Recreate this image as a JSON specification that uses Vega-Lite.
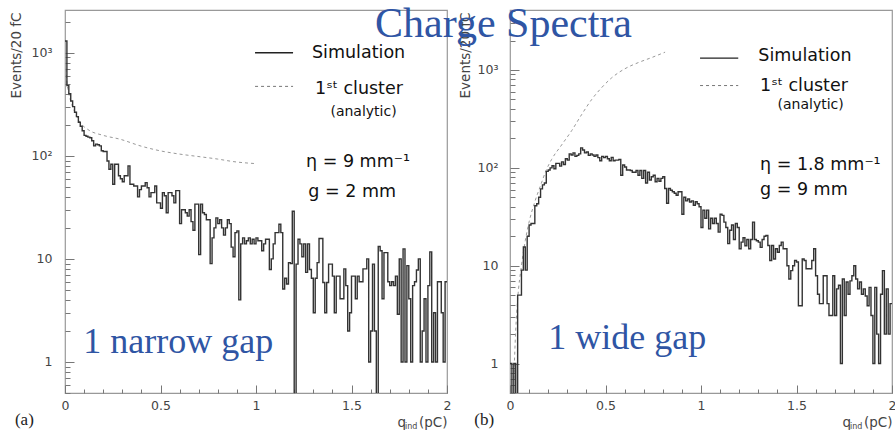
{
"$schema":"https://vega.github.io/schema/vega-lite/v6.json",
"background":"white",
"padding":{"left":8,"top":3,"right":0,"bottom":0},
"title":{"text":"Charge Spectra","font":"Liberation Serif","fontSize":42,"fontWeight":"normal","color":"#2f55a4","anchor":"start","frame":"group","offset":-42,"dx":310},
"spacing":63,
"bounds":"flush",
"config":{
 "view":{"stroke":"#999","strokeWidth":1.2},
 "axis":{"domain":false,"grid":false,"labelFont":"DejaVu Sans","labelFontSize":12.5,"labelColor":"#444","tickColor":"#777","tickWidth":1,"titleFont":"DejaVu Sans","titleFontSize":13.5,"titleFontWeight":"normal","titleColor":"#444","labelOverlap":false,"labelBound":false,"labelFlush":false}
},
"datasets":{
 "histA":[{"q":0,"n":1300},{"q":0.01,"n":480},{"q":0.02,"n":400},{"q":0.03,"n":340},{"q":0.04,"n":300},{"q":0.05,"n":265},{"q":0.06,"n":240},{"q":0.07,"n":212},{"q":0.08,"n":194},{"q":0.09,"n":175},{"q":0.1,"n":158},{"q":0.11,"n":155},{"q":0.12,"n":152},{"q":0.13,"n":150},{"q":0.14,"n":140},{"q":0.15,"n":125},{"q":0.16,"n":130},{"q":0.17,"n":128},{"q":0.18,"n":125},{"q":0.19,"n":112},{"q":0.2,"n":110},{"q":0.21,"n":110},{"q":0.22,"n":89},{"q":0.23,"n":74},{"q":0.24,"n":83},{"q":0.25,"n":53},{"q":0.26,"n":83},{"q":0.27,"n":83},{"q":0.28,"n":64},{"q":0.29,"n":60},{"q":0.3,"n":56},{"q":0.31,"n":64},{"q":0.32,"n":64},{"q":0.33,"n":80},{"q":0.34,"n":53},{"q":0.35,"n":53},{"q":0.36,"n":51},{"q":0.37,"n":51},{"q":0.38,"n":40},{"q":0.39,"n":47},{"q":0.4,"n":51},{"q":0.41,"n":51},{"q":0.42,"n":55},{"q":0.43,"n":49},{"q":0.44,"n":40},{"q":0.45,"n":44},{"q":0.46,"n":44},{"q":0.47,"n":51},{"q":0.48,"n":35},{"q":0.49,"n":35},{"q":0.5,"n":31},{"q":0.51,"n":44},{"q":0.52,"n":41},{"q":0.53,"n":28},{"q":0.54,"n":44},{"q":0.55,"n":44},{"q":0.56,"n":41},{"q":0.57,"n":35},{"q":0.58,"n":46},{"q":0.59,"n":46},{"q":0.6,"n":22},{"q":0.61,"n":30},{"q":0.62,"n":30},{"q":0.63,"n":28},{"q":0.64,"n":26},{"q":0.65,"n":30},{"q":0.66,"n":23},{"q":0.67,"n":19},{"q":0.68,"n":34},{"q":0.69,"n":34},{"q":0.7,"n":11},{"q":0.71,"n":34},{"q":0.72,"n":28},{"q":0.73,"n":27},{"q":0.74,"n":24},{"q":0.75,"n":24},{"q":0.76,"n":9},{"q":0.77,"n":16},{"q":0.78,"n":20},{"q":0.79,"n":25},{"q":0.8,"n":22},{"q":0.81,"n":24},{"q":0.82,"n":20},{"q":0.83,"n":17},{"q":0.84,"n":20},{"q":0.85,"n":24},{"q":0.86,"n":22},{"q":0.87,"n":13},{"q":0.88,"n":10.5},{"q":0.89,"n":18},{"q":0.9,"n":18.7},{"q":0.91,"n":4},{"q":0.92,"n":14},{"q":0.93,"n":16},{"q":0.94,"n":14},{"q":0.95,"n":15},{"q":0.96,"n":16},{"q":0.97,"n":14},{"q":0.98,"n":15.5},{"q":0.99,"n":14},{"q":1,"n":16},{"q":1.01,"n":15},{"q":1.02,"n":15},{"q":1.03,"n":12},{"q":1.04,"n":14},{"q":1.05,"n":15.5},{"q":1.06,"n":15.5},{"q":1.07,"n":7.9},{"q":1.08,"n":10},{"q":1.09,"n":14},{"q":1.1,"n":18},{"q":1.11,"n":18},{"q":1.12,"n":21.7},{"q":1.13,"n":18},{"q":1.14,"n":5.1},{"q":1.15,"n":6.5},{"q":1.16,"n":5.7},{"q":1.17,"n":9.2},{"q":1.18,"n":9},{"q":1.19,"n":29},{"q":1.2,"n":0.3},{"q":1.21,"n":8.9},{"q":1.22,"n":15.5},{"q":1.23,"n":14},{"q":1.24,"n":10.5},{"q":1.25,"n":14},{"q":1.26,"n":7.4},{"q":1.27,"n":14},{"q":1.28,"n":7.9},{"q":1.29,"n":6.5},{"q":1.3,"n":3},{"q":1.31,"n":6.5},{"q":1.32,"n":9.2},{"q":1.33,"n":15.8},{"q":1.34,"n":15.8},{"q":1.35,"n":5.9},{"q":1.36,"n":3},{"q":1.37,"n":5.9},{"q":1.38,"n":8.9},{"q":1.39,"n":8.9},{"q":1.4,"n":6.8},{"q":1.41,"n":3},{"q":1.42,"n":6.8},{"q":1.43,"n":6.8},{"q":1.44,"n":4.1},{"q":1.45,"n":4.1},{"q":1.46,"n":8},{"q":1.47,"n":5.5},{"q":1.48,"n":2},{"q":1.49,"n":3},{"q":1.5,"n":6.8},{"q":1.51,"n":6.8},{"q":1.52,"n":4.1},{"q":1.53,"n":6.8},{"q":1.54,"n":6},{"q":1.55,"n":6},{"q":1.56,"n":8},{"q":1.57,"n":8},{"q":1.58,"n":10},{"q":1.59,"n":1},{"q":1.6,"n":2},{"q":1.61,"n":8.9},{"q":1.62,"n":2},{"q":1.63,"n":0.3},{"q":1.64,"n":13.2},{"q":1.65,"n":12},{"q":1.66,"n":4.1},{"q":1.67,"n":11.5},{"q":1.68,"n":11.5},{"q":1.69,"n":6},{"q":1.7,"n":5.5},{"q":1.71,"n":6},{"q":1.72,"n":5.5},{"q":1.73,"n":6.8},{"q":1.74,"n":2.9},{"q":1.75,"n":10},{"q":1.76,"n":1},{"q":1.77,"n":12.5},{"q":1.78,"n":1},{"q":1.79,"n":8.6},{"q":1.8,"n":4.1},{"q":1.81,"n":1},{"q":1.82,"n":5.5},{"q":1.83,"n":6},{"q":1.84,"n":7.8},{"q":1.85,"n":10},{"q":1.86,"n":1},{"q":1.87,"n":2},{"q":1.88,"n":4.1},{"q":1.89,"n":1},{"q":1.9,"n":5.5},{"q":1.91,"n":11.7},{"q":1.92,"n":1},{"q":1.93,"n":3},{"q":1.94,"n":1},{"q":1.95,"n":6},{"q":1.96,"n":6},{"q":1.97,"n":3},{"q":1.98,"n":1},{"q":1.99,"n":6},{"q":2,"n":6}],
 "histB":[{"q":0,"n":1},{"q":0.01,"n":0.3},{"q":0.02,"n":1},{"q":0.03,"n":0.3},{"q":0.04,"n":5},{"q":0.05,"n":5},{"q":0.06,"n":9},{"q":0.07,"n":15.5},{"q":0.08,"n":9},{"q":0.09,"n":20},{"q":0.1,"n":26},{"q":0.11,"n":27},{"q":0.12,"n":27},{"q":0.13,"n":41},{"q":0.14,"n":43},{"q":0.15,"n":50},{"q":0.16,"n":61},{"q":0.17,"n":67},{"q":0.18,"n":70},{"q":0.19,"n":92},{"q":0.2,"n":95},{"q":0.21,"n":100},{"q":0.22,"n":105},{"q":0.23,"n":98},{"q":0.24,"n":111},{"q":0.25,"n":111},{"q":0.26,"n":104},{"q":0.27,"n":115},{"q":0.28,"n":108},{"q":0.29,"n":124},{"q":0.3,"n":120},{"q":0.31,"n":139},{"q":0.32,"n":135},{"q":0.33,"n":142},{"q":0.34,"n":131},{"q":0.35,"n":134},{"q":0.36,"n":139},{"q":0.37,"n":160},{"q":0.38,"n":152},{"q":0.39,"n":142},{"q":0.4,"n":145},{"q":0.41,"n":134},{"q":0.42,"n":139},{"q":0.43,"n":135},{"q":0.44,"n":131},{"q":0.45,"n":135},{"q":0.46,"n":127},{"q":0.47,"n":118},{"q":0.48,"n":131},{"q":0.49,"n":127},{"q":0.5,"n":131},{"q":0.51,"n":124},{"q":0.52,"n":118},{"q":0.53,"n":128},{"q":0.54,"n":118},{"q":0.55,"n":120},{"q":0.56,"n":120},{"q":0.57,"n":122},{"q":0.58,"n":84},{"q":0.59,"n":107},{"q":0.6,"n":102},{"q":0.61,"n":95},{"q":0.62,"n":95},{"q":0.63,"n":94},{"q":0.64,"n":90},{"q":0.65,"n":90},{"q":0.66,"n":94},{"q":0.67,"n":84},{"q":0.68,"n":94},{"q":0.69,"n":78},{"q":0.7,"n":94},{"q":0.71,"n":70},{"q":0.72,"n":90},{"q":0.73,"n":75},{"q":0.74,"n":81},{"q":0.75,"n":84},{"q":0.76,"n":72},{"q":0.77,"n":78},{"q":0.78,"n":73},{"q":0.79,"n":78},{"q":0.8,"n":81},{"q":0.81,"n":61.5},{"q":0.82,"n":43.5},{"q":0.83,"n":61.5},{"q":0.84,"n":59},{"q":0.85,"n":57},{"q":0.86,"n":55},{"q":0.87,"n":52.5},{"q":0.88,"n":57},{"q":0.89,"n":57},{"q":0.9,"n":33.6},{"q":0.91,"n":50},{"q":0.92,"n":46},{"q":0.93,"n":48},{"q":0.94,"n":44.7},{"q":0.95,"n":46},{"q":0.96,"n":41.5},{"q":0.97,"n":45},{"q":0.98,"n":43},{"q":0.99,"n":40},{"q":1,"n":24.6},{"q":1.01,"n":37},{"q":1.02,"n":30.5},{"q":1.03,"n":37},{"q":1.04,"n":23.8},{"q":1.05,"n":30.5},{"q":1.06,"n":27},{"q":1.07,"n":30.5},{"q":1.08,"n":27},{"q":1.09,"n":22},{"q":1.1,"n":33.6},{"q":1.11,"n":32.7},{"q":1.12,"n":27.9},{"q":1.13,"n":24.6},{"q":1.14,"n":16.8},{"q":1.15,"n":23},{"q":1.16,"n":26},{"q":1.17,"n":18.5},{"q":1.18,"n":27},{"q":1.19,"n":24.6},{"q":1.2,"n":14.9},{"q":1.21,"n":17.4},{"q":1.22,"n":19.3},{"q":1.23,"n":16},{"q":1.24,"n":18.5},{"q":1.25,"n":14.9},{"q":1.26,"n":18.5},{"q":1.27,"n":27.9},{"q":1.28,"n":18.5},{"q":1.29,"n":18},{"q":1.3,"n":17.4},{"q":1.31,"n":15.4},{"q":1.32,"n":18.5},{"q":1.33,"n":20},{"q":1.34,"n":20.4},{"q":1.35,"n":16.1},{"q":1.36,"n":11.3},{"q":1.37,"n":16.1},{"q":1.38,"n":11.7},{"q":1.39,"n":14.9},{"q":1.4,"n":13.7},{"q":1.41,"n":16.1},{"q":1.42,"n":17.4},{"q":1.43,"n":14.9},{"q":1.44,"n":14.9},{"q":1.45,"n":10},{"q":1.46,"n":7.3},{"q":1.47,"n":8.9},{"q":1.48,"n":10},{"q":1.49,"n":11.3},{"q":1.5,"n":10.9},{"q":1.51,"n":3.9},{"q":1.52,"n":3.9},{"q":1.53,"n":11.7},{"q":1.54,"n":11.3},{"q":1.55,"n":9.3},{"q":1.56,"n":9.3},{"q":1.57,"n":9.3},{"q":1.58,"n":11.3},{"q":1.59,"n":14.9},{"q":1.6,"n":7.9},{"q":1.61,"n":5.1},{"q":1.62,"n":4.1},{"q":1.63,"n":4.1},{"q":1.64,"n":7.9},{"q":1.65,"n":7.9},{"q":1.66,"n":4.1},{"q":1.67,"n":3.1},{"q":1.68,"n":3.1},{"q":1.69,"n":7.9},{"q":1.7,"n":3.1},{"q":1.71,"n":5.8},{"q":1.72,"n":6.3},{"q":1.73,"n":1},{"q":1.74,"n":7.3},{"q":1.75,"n":3.1},{"q":1.76,"n":6.8},{"q":1.77,"n":5.1},{"q":1.78,"n":7},{"q":1.79,"n":7.9},{"q":1.8,"n":10},{"q":1.81,"n":7.3},{"q":1.82,"n":5.8},{"q":1.83,"n":6.8},{"q":1.84,"n":5.1},{"q":1.85,"n":5.8},{"q":1.86,"n":4.9},{"q":1.87,"n":3.9},{"q":1.88,"n":6},{"q":1.89,"n":3.1},{"q":1.9,"n":1},{"q":1.91,"n":6},{"q":1.92,"n":2},{"q":1.93,"n":1},{"q":1.94,"n":5.1},{"q":1.95,"n":8.9},{"q":1.96,"n":2},{"q":1.97,"n":5.8},{"q":1.98,"n":2},{"q":1.99,"n":4.1},{"q":2,"n":4.1}],
 "curveA":[{"q":0.005,"n":700},{"q":0.01,"n":520},{"q":0.02,"n":400},{"q":0.03,"n":340},{"q":0.05,"n":270},{"q":0.079,"n":211},{"q":0.12,"n":180},{"q":0.2,"n":158},{"q":0.288,"n":145},{"q":0.4,"n":124},{"q":0.497,"n":112},{"q":0.6,"n":104},{"q":0.707,"n":98},{"q":0.8,"n":93},{"q":0.88,"n":88},{"q":1.0,"n":84}],
 "curveB":[{"q":0.02,"n":0.7},{"q":0.03,"n":2.2},{"q":0.04,"n":4.5},{"q":0.06,"n":10},{"q":0.08,"n":18},{"q":0.1,"n":28},{"q":0.13,"n":45},{"q":0.16,"n":66},{"q":0.19,"n":95},{"q":0.218,"n":122},{"q":0.27,"n":171},{"q":0.323,"n":240},{"q":0.375,"n":350},{"q":0.428,"n":500},{"q":0.48,"n":660},{"q":0.532,"n":830},{"q":0.602,"n":1030},{"q":0.672,"n":1190},{"q":0.742,"n":1340},{"q":0.812,"n":1520}],
 "keyA":[{"q":0.995,"q2":1.194,"n":1000,"line":"solid"},{"q":0.995,"q2":1.194,"n":472,"line":"dashed"}],
 "keyB":[{"q":0.995,"q2":1.195,"n":1320,"line":"solid"},{"q":0.995,"q2":1.195,"n":693,"line":"dashed"}],
 "notesA":[{"q":1.293,"n":1000,"text":"Simulation","kind":"key"},{"q":1.309,"n":445,"text":"1ˢᵗ cluster","kind":"key"},{"q":1.563,"n":267,"text":"(analytic)","kind":"note"},{"q":1.262,"n":87,"text":"η = 9 mm⁻¹","kind":"key"},{"q":1.274,"n":45,"text":"g = 2 mm","kind":"key"},{"q":0.096,"n":1.23,"text":"1 narrow gap","kind":"gap"},{"q":-0.262,"n":0.271,"text":"(a)","kind":"panel"},{"q":1.78,"n":0.235,"text":"ind","kind":"sub"}],
 "notesB":[{"q":1.3,"n":1400,"text":"Simulation","kind":"key"},{"q":1.309,"n":678,"text":"1ˢᵗ cluster","kind":"key"},{"q":1.574,"n":439,"text":"(analytic)","kind":"note"},{"q":1.309,"n":106,"text":"η = 1.8 mm⁻¹","kind":"key"},{"q":1.309,"n":58.9,"text":"g = 9 mm","kind":"key"},{"q":0.2,"n":1.4,"text":"1 wide gap","kind":"gap"},{"q":-0.187,"n":0.268,"text":"(b)","kind":"panel"},{"q":1.78,"n":0.225,"text":"ind","kind":"sub"}]
},
"hconcat":[
 {
  "width":382,"height":383,
  "encoding":{
   "x":{"field":"q","type":"quantitative","scale":{"domain":[0,2],"nice":false,"zero":false},
        "axis":{"values":[0,0.1,0.2,0.3,0.4,0.5,0.6,0.7,0.8,0.9,1,1.1,1.2,1.3,1.4,1.5,1.6,1.7,1.8,1.9,2],
                "labelExpr":"indexof([0,0.5,1,1.5,2], datum.value) >= 0 ? format(datum.value, '') : ''",
                "tickSize":{"expr":"indexof([0,0.5,1,1.5,2], datum.value) >= 0 ? -8 : -4"},
                "labelPadding":14,
                "title":"q\u00a0\u00a0\u00a0(pC)","titleAnchor":"end","titleAlign":"right","titleX":382,"titleY":29,"titleBaseline":"middle"}},
   "y":{"field":"n","type":"quantitative","scale":{"type":"log","domain":[0.5,2600],"nice":false},
        "axis":{"values":[0.5,0.6,0.7,0.8,0.9,1,2,3,4,5,6,7,8,9,10,20,30,40,50,60,70,80,90,100,200,300,400,500,600,700,800,900,1000,2000],
                "labelExpr":"datum.value == 1 ? '1' : datum.value == 10 ? '10' : datum.value == 100 ? '10²' : datum.value == 1000 ? '10³' : ''",
                "tickSize":{"expr":"indexof([1,10,100,1000], datum.value) >= 0 ? -9 : -5"},
                "labelPadding":22,
                "title":"Events/20 fC","titleAngle":-90,"titleX":-49,"titleY":2,"titleAlign":"right","titleBaseline":"middle"}}
  },
  "layer":[
   {"data":{"name":"curveA"},"mark":{"type":"line","interpolate":"monotone","strokeDash":[3,3],"color":"#999","strokeWidth":1,"clip":true}},
   {"data":{"name":"histA"},"mark":{"type":"line","interpolate":"step-after","clip":true,"color":"#333","strokeWidth":1.4}},
   {"data":{"name":"keyA"},"transform":[{"filter":"datum.line == 'solid'"}],"mark":{"type":"rule","color":"#222","strokeWidth":1.4},"encoding":{"x2":{"field":"q2"}}},
   {"data":{"name":"keyA"},"transform":[{"filter":"datum.line == 'dashed'"}],"mark":{"type":"rule","color":"#777","strokeWidth":1,"strokeDash":[3,3]},"encoding":{"x2":{"field":"q2"}}},
   {"data":{"name":"notesA"},"transform":[{"filter":"datum.kind == 'key'"}],"mark":{"type":"text","align":"left","baseline":"middle","font":"DejaVu Sans","fontSize":17.5,"color":"#111"},"encoding":{"text":{"field":"text"}}},
   {"data":{"name":"notesA"},"transform":[{"filter":"datum.kind == 'note'"}],"mark":{"type":"text","align":"center","baseline":"middle","font":"DejaVu Sans","fontSize":14,"color":"#111"},"encoding":{"text":{"field":"text"}}},
   {"data":{"name":"notesA"},"transform":[{"filter":"datum.kind == 'gap'"}],"mark":{"type":"text","align":"left","baseline":"alphabetic","font":"Liberation Serif","fontSize":36,"color":"#2f55a4"},"encoding":{"text":{"field":"text"}}},
   {"data":{"name":"notesA"},"transform":[{"filter":"datum.kind == 'panel'"}],"mark":{"type":"text","align":"left","baseline":"middle","font":"Liberation Serif","fontSize":17,"color":"#222"},"encoding":{"text":{"field":"text"}}},
   {"data":{"name":"notesA"},"transform":[{"filter":"datum.kind == 'sub'"}],"mark":{"type":"text","align":"left","baseline":"middle","font":"DejaVu Sans","fontSize":8,"color":"#444"},"encoding":{"text":{"field":"text"}}}
  ]
 },
 {
  "width":382,"height":383,
  "encoding":{
   "x":{"field":"q","type":"quantitative","scale":{"domain":[0,2],"nice":false,"zero":false},
        "axis":{"values":[0,0.1,0.2,0.3,0.4,0.5,0.6,0.7,0.8,0.9,1,1.1,1.2,1.3,1.4,1.5,1.6,1.7,1.8,1.9,2],
                "labelExpr":"indexof([0,0.5,1,1.5,2], datum.value) >= 0 ? format(datum.value, '') : ''",
                "tickSize":{"expr":"indexof([0,0.5,1,1.5,2], datum.value) >= 0 ? -8 : -4"},
                "labelPadding":14,
                "title":"q\u00a0\u00a0\u00a0(pC)","titleAnchor":"end","titleAlign":"right","titleX":382,"titleY":29,"titleBaseline":"middle"}},
   "y":{"field":"n","type":"quantitative","scale":{"type":"log","domain":[0.5,4100],"nice":false},
        "axis":{"values":[0.5,0.6,0.7,0.8,0.9,1,2,3,4,5,6,7,8,9,10,20,30,40,50,60,70,80,90,100,200,300,400,500,600,700,800,900,1000,2000,3000,4000],
                "labelExpr":"datum.value == 1 ? '1' : datum.value == 10 ? '10' : datum.value == 100 ? '10²' : datum.value == 1000 ? '10³' : ''",
                "tickSize":{"expr":"indexof([1,10,100,1000], datum.value) >= 0 ? -9 : -5"},
                "labelPadding":21,
                "title":"Events/20 fC","titleAngle":-90,"titleX":-45,"titleY":2,"titleAlign":"right","titleBaseline":"middle"}}
  },
  "layer":[
   {"data":{"name":"curveB"},"mark":{"type":"line","interpolate":"monotone","strokeDash":[3,3],"color":"#999","strokeWidth":1,"clip":true}},
   {"data":{"name":"histB"},"mark":{"type":"line","interpolate":"step-after","clip":true,"color":"#333","strokeWidth":1.4}},
   {"data":{"name":"keyB"},"transform":[{"filter":"datum.line == 'solid'"}],"mark":{"type":"rule","color":"#222","strokeWidth":1.4},"encoding":{"x2":{"field":"q2"}}},
   {"data":{"name":"keyB"},"transform":[{"filter":"datum.line == 'dashed'"}],"mark":{"type":"rule","color":"#777","strokeWidth":1,"strokeDash":[3,3]},"encoding":{"x2":{"field":"q2"}}},
   {"data":{"name":"notesB"},"transform":[{"filter":"datum.kind == 'key'"}],"mark":{"type":"text","align":"left","baseline":"middle","font":"DejaVu Sans","fontSize":17.5,"color":"#111"},"encoding":{"text":{"field":"text"}}},
   {"data":{"name":"notesB"},"transform":[{"filter":"datum.kind == 'note'"}],"mark":{"type":"text","align":"center","baseline":"middle","font":"DejaVu Sans","fontSize":14,"color":"#111"},"encoding":{"text":{"field":"text"}}},
   {"data":{"name":"notesB"},"transform":[{"filter":"datum.kind == 'gap'"}],"mark":{"type":"text","align":"left","baseline":"alphabetic","font":"Liberation Serif","fontSize":36,"color":"#2f55a4"},"encoding":{"text":{"field":"text"}}},
   {"data":{"name":"notesB"},"transform":[{"filter":"datum.kind == 'panel'"}],"mark":{"type":"text","align":"left","baseline":"middle","font":"Liberation Serif","fontSize":17,"color":"#222"},"encoding":{"text":{"field":"text"}}},
   {"data":{"name":"notesB"},"transform":[{"filter":"datum.kind == 'sub'"}],"mark":{"type":"text","align":"left","baseline":"middle","font":"DejaVu Sans","fontSize":8,"color":"#444"},"encoding":{"text":{"field":"text"}}}
  ]
 }
]
}
